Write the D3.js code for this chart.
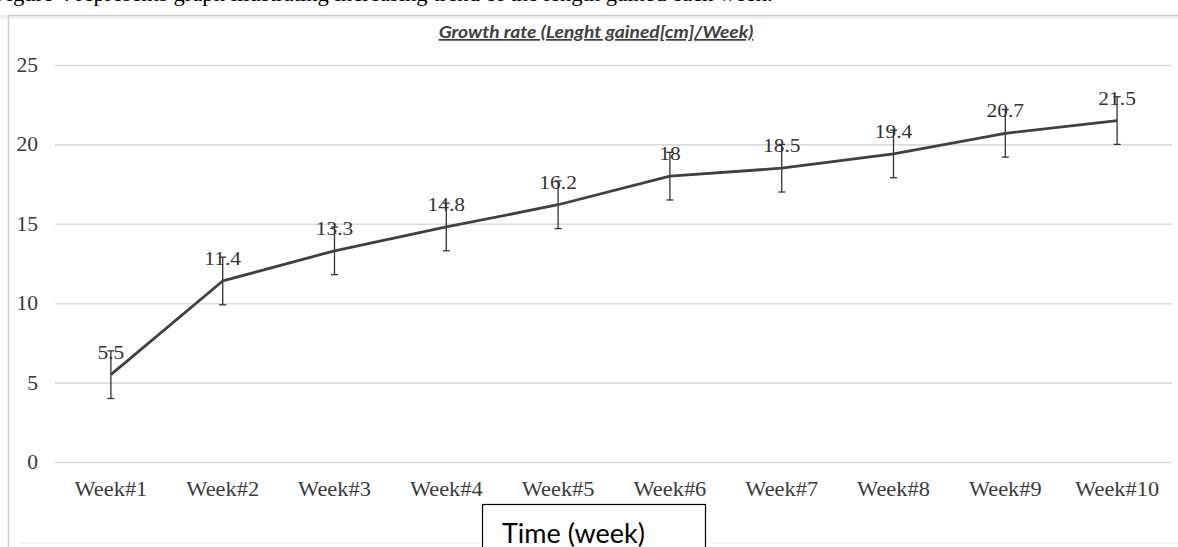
<!DOCTYPE html>
<html><head><meta charset="utf-8">
<script src="https://cdn.jsdelivr.net/npm/d3@7"></script>
<style>
html,body{margin:0;padding:0;background:#fff;overflow:hidden;}
</style></head>
<body>
<script>
const categories = ["Week#1","Week#2","Week#3","Week#4","Week#5","Week#6","Week#7","Week#8","Week#9","Week#10"];
const values = [5.5, 11.4, 13.3, 14.8, 16.2, 18, 18.5, 19.4, 20.7, 21.5];
const errors = [1.5, 1.5, 1.5, 1.5, 1.5, 1.5, 1.5, 1.5, 1.5, 1.5];
const valueLabels = ["5.5","11.4","13.3","14.8","16.2","18","18.5","19.4","20.7","21.5"];
const yTicks = [0, 5, 10, 15, 20, 25];
const title = "Growth rate (Lenght gained[cm]/Week)";
const axisTitle = "Time (week)";
const bodyText = "Figure 4 represents graph illustrating increasing trend of the length gained each week.";

const W = 1178, H = 547;
const SERIF = "Liberation Serif, Times New Roman, serif";
const SANS = "Lato, Open Sans, sans-serif";
const svg = d3.select("body").append("svg").attr("width", W).attr("height", H);

// cut-off body text line above the figure
svg.append("text").attr("transform", "translate(-6,0.5) scale(1.08,1)")
  .attr("font-family", SERIF).attr("font-size", 21).attr("fill", "#000").text(bodyText);

// figure frame
svg.append("rect").attr("x", 0).attr("y", 15).attr("width", W).attr("height", 4).attr("fill", "#f0f0f0");
svg.append("line").attr("x1", 8).attr("x2", W).attr("y1", 15.5).attr("y2", 15.5).attr("stroke", "#cfcfcf").attr("stroke-width", 1.5);
svg.append("line").attr("x1", 8.5).attr("x2", 8.5).attr("y1", 15).attr("y2", H).attr("stroke", "#cfcfcf").attr("stroke-width", 1.5);
svg.append("line").attr("x1", 20).attr("x2", W).attr("y1", 543.5).attr("y2", 543.5).attr("stroke", "#f0f0f0").attr("stroke-width", 1);

const x = d3.scaleBand().domain(categories).range([55, 1173]);
const y = d3.scaleLinear().domain([0, 25]).range([462, 65]);

// gridlines via axis
const grid = svg.append("g").attr("transform", "translate(55,0)")
  .call(d3.axisLeft(y).tickValues(yTicks).tickSize(-1117).tickFormat(""));
grid.select(".domain").remove();
grid.selectAll("line").attr("stroke", "#dcdcdc").attr("stroke-width", 1.6);

// y labels
const ya = svg.append("g").attr("transform", "translate(38,0)")
  .call(d3.axisLeft(y).tickValues(yTicks).tickSize(0).tickPadding(0));
ya.select(".domain").remove();
ya.selectAll("text").attr("font-family", SERIF)
  .attr("font-size", 20).attr("fill", "#3a3a3a").attr("transform", "scale(1.08,1)");

// x labels
const xa = svg.append("g").attr("transform", "translate(0,478)")
  .call(d3.axisBottom(x).tickSize(0).tickPadding(0));
xa.select(".domain").remove();
xa.selectAll("text").attr("font-family", SERIF).attr("y", 18).attr("dy", 0)
  .attr("font-size", 20).attr("fill", "#3a3a3a").attr("transform", "scale(1.12,1)");

const cx = d => x(d) + x.bandwidth() / 2;

// error bars
const eb = svg.append("g").attr("stroke", "#333").attr("stroke-width", 1.3);
categories.forEach((c, i) => {
  const px = cx(c);
  eb.append("line").attr("x1", px).attr("x2", px).attr("y1", y(values[i] - errors[i])).attr("y2", y(values[i] + errors[i]));
  eb.append("line").attr("x1", px - 3.5).attr("x2", px + 3.5).attr("y1", y(values[i] - errors[i])).attr("y2", y(values[i] - errors[i]));
  eb.append("line").attr("x1", px - 3.5).attr("x2", px + 3.5).attr("y1", y(values[i] + errors[i])).attr("y2", y(values[i] + errors[i]));
});

// line
const line = d3.line().x((d, i) => cx(categories[i])).y(d => y(d));
svg.append("path").datum(values).attr("d", line).attr("fill", "none")
  .attr("stroke", "#404040").attr("stroke-width", 2.8).attr("stroke-linejoin", "round");

// data labels
svg.append("g").selectAll("text").data(values).join("text")
  .attr("transform", (d, i) => `translate(${cx(categories[i])},${y(d) - 16}) scale(1.1,1)`)
  .attr("text-anchor", "middle")
  .attr("font-family", SERIF)
  .attr("font-size", 19.5).attr("fill", "#333")
  .text((d, i) => valueLabels[i]);

// title
svg.append("text").attr("transform", "translate(596,38) scale(1.1,1)").attr("text-anchor", "middle")
  .attr("font-family", SANS).attr("font-weight", "bold").attr("font-style", "italic")
  .attr("font-size", 17.5).attr("fill", "#404040").attr("text-decoration", "underline").text(title);

// axis title box
svg.append("rect").attr("x", 482.5).attr("y", 504.5).attr("width", 223).attr("height", 60)
  .attr("fill", "#fff").attr("stroke", "#000").attr("stroke-width", 1.2);
svg.append("text").attr("x", 502).attr("y", 543)
  .attr("font-family", SANS).attr("font-size", 27).attr("fill", "#000").text(axisTitle);
</script>
</body></html>
